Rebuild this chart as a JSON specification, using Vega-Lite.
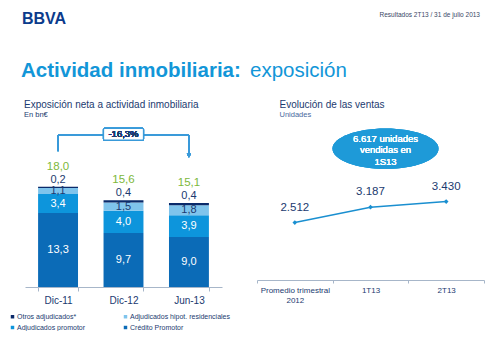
{
  "$schema": "https://vega.github.io/schema/vega-lite/v6.json",
  "padding": {"left": 9, "top": 11, "right": 0, "bottom": 0},
  "background": "white",
  "config": {
    "font": "Liberation Sans",
    "view": {"stroke": null},
    "locale": {"number": {"decimal": ",", "thousands": ".", "grouping": [3], "currency": ["", "€"]}}
  },
  "datasets": {
    "expo": [
      {"periodo": "Dic-11", "categoria": "Crédito Promotor", "valor": 13.3, "orden": 1},
      {"periodo": "Dic-11", "categoria": "Adjudicados promotor", "valor": 3.4, "orden": 2},
      {"periodo": "Dic-11", "categoria": "Adjudicados hipot. residenciales", "valor": 1.1, "orden": 3},
      {"periodo": "Dic-11", "categoria": "Otros adjudicados*", "valor": 0.2, "orden": 4},
      {"periodo": "Dic-12", "categoria": "Crédito Promotor", "valor": 9.7, "orden": 1},
      {"periodo": "Dic-12", "categoria": "Adjudicados promotor", "valor": 4.0, "orden": 2},
      {"periodo": "Dic-12", "categoria": "Adjudicados hipot. residenciales", "valor": 1.5, "orden": 3},
      {"periodo": "Dic-12", "categoria": "Otros adjudicados*", "valor": 0.4, "orden": 4},
      {"periodo": "Jun-13", "categoria": "Crédito Promotor", "valor": 9.0, "orden": 1},
      {"periodo": "Jun-13", "categoria": "Adjudicados promotor", "valor": 3.9, "orden": 2},
      {"periodo": "Jun-13", "categoria": "Adjudicados hipot. residenciales", "valor": 1.8, "orden": 3},
      {"periodo": "Jun-13", "categoria": "Otros adjudicados*", "valor": 0.4, "orden": 4}
    ],
    "ventas": [
      {"periodo": "Promedio trimestral 2012", "unidades": 2512},
      {"periodo": "1T13", "unidades": 3187},
      {"periodo": "2T13", "unidades": 3430}
    ]
  },
  "spacing": 16.5,
  "vconcat": [
    {
      "spacing": 0,
      "hconcat": [
        {
          "title": {"text": "BBVA", "anchor": "start", "fontSize": 16, "fontWeight": "bold", "color": "#0B3B8C", "offset": 0, "dx": -3},
          "width": 200, "height": 17,
          "data": {"values": []},
          "mark": "point"
        },
        {
          "title": {"text": "Resultados 2T13 / 31 de julio 2013", "anchor": "end", "fontSize": 6.5, "fontWeight": "normal", "color": "#3A4766", "offset": 9},
          "width": 255, "height": 17,
          "data": {"values": []},
          "mark": "point"
        }
      ]
    },
    {
      "spacing": 0,
      "hconcat": [
        {
          "title": {"text": "Actividad inmobiliaria:", "anchor": "start", "fontSize": 20.5, "fontWeight": "bold", "color": "#1296D8", "offset": 0, "dx": -4},
          "width": 225, "height": 1,
          "data": {"values": []},
          "mark": "point"
        },
        {
          "title": {"text": "exposición", "anchor": "start", "fontSize": 20.5, "fontWeight": "normal", "color": "#1296D8", "offset": 0},
          "width": 230, "height": 1,
          "data": {"values": []},
          "mark": "point"
        }
      ]
    },
    {
      "spacing": 34,
      "hconcat": [
        {
          "title": {"text": "Exposición neta a actividad inmobiliaria", "subtitle": "En bn€", "anchor": "start", "fontSize": 10, "fontWeight": "normal", "color": "#1B3A6F", "subtitleFontSize": 7.5, "subtitleColor": "#1B3A6F", "subtitlePadding": 1, "offset": 2, "dx": -1},
          "width": 197,
          "height": 167,
          "data": {"name": "expo"},
          "encoding": {
            "x": {"field": "periodo", "type": "nominal", "sort": ["Dic-11", "Dic-12", "Jun-13"],
              "scale": {"paddingInner": 0.39, "paddingOuter": 0.2},
              "axis": {"title": null, "labelAngle": 0, "labelFontSize": 10, "labelFontWeight": "normal", "labelColor": "#1B3A6F", "domainColor": "#A7B6C9", "tickColor": "#A7B6C9", "tickBand": "extent", "tickSize": 4, "labelPadding": 4}}
          },
          "layer": [
            {
              "mark": {"type": "bar"},
              "encoding": {
                "y": {"field": "valor", "type": "quantitative", "stack": "zero", "scale": {"domain": [0, 30]}, "axis": null},
                "color": {"field": "categoria", "type": "nominal",
                  "scale": {"domain": ["Otros adjudicados*", "Adjudicados hipot. residenciales", "Adjudicados promotor", "Crédito Promotor"], "range": ["#0A2A6A", "#7FC4EC", "#0D95DC", "#0B6BB7"]},
                  "legend": {"title": null, "orient": "none", "legendX": -16, "legendY": 286, "direction": "horizontal", "columns": 2, "columnPadding": 36, "rowPadding": 3, "symbolType": "square", "symbolSize": 12, "symbolStrokeWidth": 0, "labelFontSize": 7, "labelColor": "#1B3A6F", "labelOffset": 1, "labelLimit": 200}},
                "order": {"field": "orden", "type": "quantitative"}
              }
            },
            {
              "transform": [
                {"stack": "valor", "groupby": ["periodo"], "sort": [{"field": "orden"}], "as": ["v0", "v1"]},
                {"calculate": "(datum.v0 + datum.v1) / 2", "as": "mid"},
                {"filter": "datum.orden < 4"}
              ],
              "mark": {"type": "text", "fontSize": 11, "fontWeight": "normal", "baseline": "middle"},
              "encoding": {
                "y": {"field": "mid", "type": "quantitative"},
                "text": {"field": "valor", "type": "quantitative", "format": ".1f"},
                "color": {"condition": {"test": "datum.orden <= 2", "value": "white"}, "value": "#1B3A6F"}
              }
            },
            {
              "transform": [
                {"stack": "valor", "groupby": ["periodo"], "sort": [{"field": "orden"}], "as": ["v0", "v1"]},
                {"filter": "datum.orden == 4"}
              ],
              "mark": {"type": "text", "fontSize": 11, "baseline": "middle", "dy": -7, "color": "#1B3A6F"},
              "encoding": {
                "y": {"field": "v1", "type": "quantitative"},
                "text": {"field": "valor", "type": "quantitative", "format": ".1f"}
              }
            },
            {
              "transform": [
                {"aggregate": [{"op": "sum", "field": "valor", "as": "total"}], "groupby": ["periodo"]}
              ],
              "mark": {"type": "text", "fontSize": 11.5, "baseline": "middle", "dy": -20, "color": "#7DB83A"},
              "encoding": {
                "y": {"field": "total", "type": "quantitative"},
                "text": {"field": "total", "type": "quantitative", "format": ".1f"}
              }
            },
            {
              "mark": {"type": "rule", "color": "#3A9AD9", "strokeWidth": 1},
              "encoding": {
                "x": {"datum": "Dic-11"},
                "x2": {"datum": "Jun-13"},
                "y": {"datum": 27.3}
              }
            },
            {
              "mark": {"type": "rule", "color": "#3A9AD9", "strokeWidth": 1},
              "encoding": {
                "x": {"datum": "Dic-11"},
                "y": {"datum": 27.3},
                "y2": {"datum": 24.4}
              }
            },
            {
              "mark": {"type": "rule", "color": "#3A9AD9", "strokeWidth": 1},
              "encoding": {
                "x": {"datum": "Jun-13"},
                "y": {"datum": 27.3},
                "y2": {"datum": 23.6}
              }
            },
            {
              "mark": {"type": "point", "shape": "triangle-down", "size": 18, "filled": true, "opacity": 1, "color": "#3A9AD9"},
              "encoding": {
                "x": {"datum": "Jun-13"},
                "y": {"datum": 23.6}
              }
            },
            {
              "mark": {"type": "rect", "fill": "white", "stroke": "#3A9AD9", "strokeWidth": 1.2, "cornerRadius": 1},
              "encoding": {
                "x": {"datum": "Dic-12"},
                "y": {"datum": 26.4},
                "y2": {"datum": 28.5}
              }
            },
            {
              "mark": {"type": "text", "fontSize": 9.5, "fontWeight": "normal", "baseline": "middle", "color": "#1B3A6F"},
              "encoding": {
                "x": {"datum": "Dic-12"},
                "y": {"datum": 27.45},
                "text": {"value": "-16,3%"}
              }
            }
          ]
        },
        {
          "title": {"text": "Evolución de las ventas", "subtitle": "Unidades", "anchor": "start", "fontSize": 10, "fontWeight": "normal", "color": "#1B3A6F", "subtitleFontSize": 7.5, "subtitleColor": "#4A6A9E", "subtitlePadding": 1, "offset": 2, "dx": 23},
          "width": 227,
          "height": 160,
          "data": {"name": "ventas"},
          "encoding": {
            "x": {"field": "periodo", "type": "nominal", "sort": ["Promedio trimestral 2012", "1T13", "2T13"],
              "scale": {"paddingInner": 0, "paddingOuter": 0},
              "axis": {"title": null, "labelAngle": 0, "labelFontSize": 8, "labelFontWeight": "normal", "labelColor": "#1B3A6F", "domainColor": "#A7B6C9", "tickColor": "#A7B6C9", "tickBand": "extent", "tickSize": 3, "labelPadding": 3,
                "labelExpr": "datum.value == 'Promedio trimestral 2012' ? ['Promedio trimestral', '2012'] : datum.value"}}
          },
          "layer": [
            {
              "mark": {"type": "line", "color": "#1A8FD0", "strokeWidth": 1.5,
                "point": {"shape": "diamond", "size": 22, "filled": true, "opacity": 1, "color": "#1A8FD0"}},
              "encoding": {
                "y": {"field": "unidades", "type": "quantitative", "scale": {"domain": [436, 6823], "zero": false}, "axis": null}
              }
            },
            {
              "mark": {"type": "text", "fontSize": 11.5, "baseline": "middle", "dy": -15, "color": "#1B3A6F"},
              "encoding": {
                "y": {"field": "unidades", "type": "quantitative"},
                "text": {"field": "unidades", "type": "quantitative", "format": ",.0f"}
              }
            },
            {
              "mark": {"type": "point", "shape": "M -1 0 A 1 0.38 0 1 1 1 0 A 1 0.38 0 1 1 -1 0 Z", "size": 11236, "filled": true, "opacity": 1, "color": "#1E9AD8", "xOffset": 15},
              "encoding": {
                "x": {"datum": "1T13"},
                "y": {"datum": 5745}
              }
            },
            {
              "mark": {"type": "text", "fontSize": 9.5, "fontWeight": "normal", "lineHeight": 11.5, "baseline": "middle", "color": "white", "xOffset": 15, "dy": -10},
              "encoding": {
                "x": {"datum": "1T13"},
                "y": {"datum": 5745},
                "text": {"value": ["6.617 unidades", "vendidas  en", "1S13"]}
              }
            }
          ]
        }
      ]
    }
  ]
}
